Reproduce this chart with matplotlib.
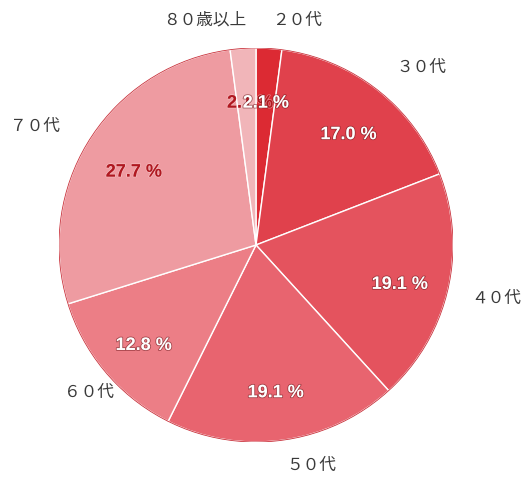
import matplotlib
matplotlib.use("Agg")
import matplotlib.pyplot as plt
import matplotlib.patheffects as pe
import numpy as np

categories = ["２０代", "３０代", "４０代", "５０代", "６０代", "７０代", "８０歳以上"]
values = [2.1, 17.0, 19.1, 19.1, 12.8, 27.7, 2.1]
pct_labels = ["2.1 %", "17.0 %", "19.1 %", "19.1 %", "12.8 %", "27.7 %", "2.1 %"]
colors = ["#dc2a33", "#e0414c", "#e4535e", "#e8646f", "#ec7e86", "#ee9ba1", "#f1b5b9"]
pct_colors = ["white", "white", "white", "white", "white", "#b01820", "#b01820"]

# label anchor positions (axes data units, radius = 1)
cat_pos = [(0.21, 1.14), (0.84, 0.90), (1.22, -0.27), (0.28, -1.12),
           (-0.85, -0.75), (-1.12, 0.60), (-0.26, 1.14)]
pct_pos = [(0.05, 0.72), (0.47, 0.56), (0.73, -0.20), (0.10, -0.75),
           (-0.57, -0.51), (-0.62, 0.37), (-0.03, 0.72)]

W, H = 532, 480
fig = plt.figure(figsize=(W / 100, H / 100), dpi=100)
cx, cy, r = 256, 245, 197
ax = fig.add_axes([(cx - r) / W, (H - cy - r) / H, 2 * r / W, 2 * r / H])

wedges, _ = ax.pie(values, colors=colors, startangle=90, counterclock=False,
                   radius=1.0,
                   wedgeprops=dict(edgecolor="white", linewidth=1.0))
ax.set_xlim(-1, 1)
ax.set_ylim(-1, 1)
ax.set_aspect("equal")
ax.axis("off")

# outer outline
circle = plt.Circle((0, 0), 1.0, fill=False, edgecolor="#c9303a", linewidth=0.6)
ax.add_patch(circle)

cjk = ["Noto Sans CJK JP", "DejaVu Sans"]
for name, (x, y) in zip(categories, cat_pos):
    ax.text(x, y, name, ha="center", va="center", fontsize=12, color="#3a3a3a",
            family=cjk, clip_on=False)

order = [6, 5, 4, 3, 2, 1, 0]
for i in order:
    x, y = pct_pos[i]
    c = pct_colors[i]
    if c == "white":
        effects = [pe.withStroke(linewidth=1.2, foreground=(0.45, 0.1, 0.12, 0.6))]
    else:
        effects = [pe.withStroke(linewidth=1.0, foreground=(1, 0.9, 0.9, 0.5))]
    ax.text(x, y, pct_labels[i], ha="center", va="center", fontsize=13,
            fontweight="bold", color=c, family="Liberation Sans",
            path_effects=effects, clip_on=False)

fig.savefig("out.png", dpi=100, facecolor="white")
